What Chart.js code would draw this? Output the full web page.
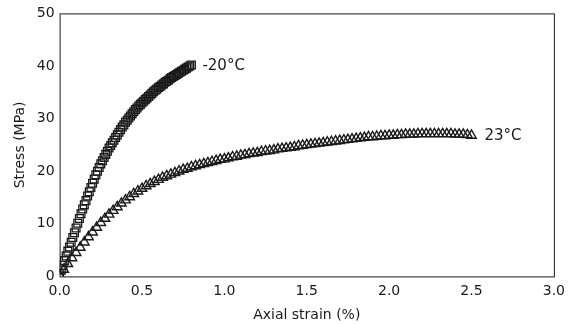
<!DOCTYPE html>
<html>
<head>
<meta charset="utf-8">
<script src="https://cdn.jsdelivr.net/npm/chart.js@4/dist/chart.umd.min.js"></script>
<style>
  html, body { margin: 0; padding: 0; background: #fff; }
  #wrap { width: 572px; height: 324px; position: relative; }
</style>
</head>
<body>
<div id="wrap"><canvas id="c" width="572" height="324"></canvas></div>
<script>
// ---- data ----
const seriesNames = ['-20°C', '23°C'];

const strainCold = [0.00,0.01,0.02,0.03,0.04,0.05,0.06,0.07,0.08,0.09,
  0.10,0.11,0.12,0.13,0.14,0.15,0.16,0.17,0.18,0.19,
  0.20,0.21,0.22,0.23,0.24,0.25,0.26,0.27,0.28,0.29,
  0.30,0.31,0.32,0.33,0.34,0.35,0.36,0.37,0.38,0.39,
  0.40,0.41,0.42,0.43,0.44,0.45,0.46,0.47,0.48,0.49,
  0.50,0.51,0.52,0.53,0.54,0.55,0.56,0.57,0.58,0.59,
  0.60,0.61,0.62,0.63,0.64,0.65,0.66,0.67,0.68,0.69,
  0.70,0.71,0.72,0.73,0.74,0.75,0.76,0.77,0.78,0.79,0.80];
const stressCold = [0.3,1.2,2.1,3.0,3.9,4.8,5.6,6.5,7.4,8.3,
  9.2,10.1,11.0,11.9,12.8,13.6,14.4,15.3,16.1,16.9,
  17.7,18.5,19.3,20.0,20.7,21.4,22.0,22.6,23.2,23.8,
  24.4,24.9,25.4,25.9,26.4,26.9,27.4,27.9,28.4,28.8,
  29.3,29.7,30.1,30.5,30.9,31.3,31.7,32.0,32.4,32.7,
  33.0,33.3,33.6,33.9,34.2,34.5,34.8,35.1,35.4,35.6,
  35.9,36.1,36.4,36.6,36.9,37.1,37.3,37.6,37.8,38.0,
  38.2,38.4,38.6,38.8,39.0,39.2,39.4,39.6,39.8,40.0,40.2];

const strainWarm = [0.000,0.025,0.050,0.075,0.100,0.125,0.150,0.175,0.200,0.225,
  0.250,0.275,0.300,0.325,0.350,0.375,0.400,0.425,0.450,0.475,
  0.500,0.525,0.550,0.575,0.600,0.625,0.650,0.675,0.700,0.725,
  0.750,0.775,0.800,0.825,0.850,0.875,0.900,0.925,0.950,0.975,
  1.000,1.025,1.050,1.075,1.100,1.125,1.150,1.175,1.200,1.225,
  1.250,1.275,1.300,1.325,1.350,1.375,1.400,1.425,1.450,1.475,
  1.500,1.525,1.550,1.575,1.600,1.625,1.650,1.675,1.700,1.725,
  1.750,1.775,1.800,1.825,1.850,1.875,1.900,1.925,1.950,1.975,
  2.000,2.025,2.050,2.075,2.100,2.125,2.150,2.175,2.200,2.225,
  2.250,2.275,2.300,2.325,2.350,2.375,2.400,2.425,2.450,2.475,2.500];
const stressWarm = [0.2,1.3,2.4,3.5,4.5,5.5,6.5,7.5,8.4,9.3,
  10.2,11.0,11.8,12.5,13.2,13.9,14.5,15.1,15.7,16.2,
  16.7,17.2,17.6,18.0,18.4,18.8,19.1,19.4,19.7,20.0,
  20.3,20.5,20.8,21.0,21.2,21.4,21.6,21.8,22.0,22.2,
  22.3,22.5,22.7,22.8,23.0,23.1,23.3,23.4,23.5,23.7,
  23.8,23.9,24.0,24.2,24.3,24.4,24.5,24.6,24.8,24.9,
  25.0,25.1,25.2,25.3,25.4,25.5,25.6,25.7,25.8,25.9,
  26.0,26.1,26.2,26.3,26.4,26.5,26.5,26.6,26.7,26.7,
  26.8,26.8,26.9,26.9,27.0,27.0,27.0,27.1,27.1,27.1,
  27.1,27.1,27.1,27.1,27.1,27.1,27.0,27.0,27.0,26.9,26.8];

const xTickValues = [0, 0.5, 1.0, 1.5, 2.0, 2.5, 3.0];
const xTickLabels = ['0.0', '0.5', '1.0', '1.5', '2.0', '2.5', '3.0'];
const yTickValues = [0, 10, 20, 30, 40, 50];
const yTickLabels = ['0', '10', '20', '30', '40', '50'];
const xTitle = 'Axial strain (%)';
const yTitle = 'Stress (MPa)';

// ---- chart ----
const FONT = '"DejaVu Sans", sans-serif';
const INK = '#1a1a1a';

const frame = {
  id: 'frame',
  afterDatasetsDraw(chart) {
    const { ctx, chartArea: a } = chart;
    ctx.save();
    ctx.strokeStyle = INK;
    ctx.lineWidth = 1;
    ctx.strokeRect(a.left + 0.5, a.top + 0.5, a.right - a.left, a.bottom - a.top);
    ctx.restore();
  }
};

const endLabels = {
  id: 'endLabels',
  afterDatasetsDraw(chart) {
    const { ctx, scales } = chart;
    ctx.save();
    ctx.font = '15px ' + FONT;
    ctx.fillStyle = INK;
    ctx.textBaseline = 'middle';
    ctx.textAlign = 'left';
    chart.data.datasets.forEach((ds, i) => {
      const last = ds.data[ds.data.length - 1];
      const px = scales.x.getPixelForValue(last.x);
      const py = scales.y.getPixelForValue(last.y);
      ctx.fillText(seriesNames[i], px + (i === 0 ? 11 : 13), py + 1);
    });
    ctx.restore();
  }
};

const toPoints = (xs, ys) => xs.map((x, i) => ({ x: x, y: ys[i] }));

new Chart(document.getElementById('c'), {
  type: 'scatter',
  data: {
    datasets: [
      {
        label: seriesNames[0],
        data: toPoints(strainCold, stressCold),
        pointStyle: 'rect',
        pointRadius: 5.5,
        pointBorderWidth: 1.3,
        pointBorderColor: INK,
        pointBackgroundColor: 'rgba(255,255,255,0)',
        showLine: false
      },
      {
        label: seriesNames[1],
        data: toPoints(strainWarm, stressWarm),
        pointStyle: 'triangle',
        pointRadius: 5.5,
        pointBorderWidth: 1.4,
        pointBorderColor: INK,
        pointBackgroundColor: 'rgba(255,255,255,0)',
        showLine: false
      }
    ]
  },
  options: {
    responsive: false,
    animation: false,
    devicePixelRatio: 1,
    layout: { padding: { left: 12, right: 15, top: 4, bottom: 0 } },
    plugins: { legend: { display: false }, tooltip: { enabled: false } },
    scales: {
      x: {
        type: 'linear',
        min: 0, max: 3,
        afterBuildTicks: (s) => { s.ticks = xTickValues.map(v => ({ value: v })); },
        ticks: {
          callback: (v) => xTickLabels[xTickValues.indexOf(v)],
          font: { family: FONT, size: 14 },
          color: INK,
          padding: 7,
          maxRotation: 0
        },
        grid: { display: false, drawTicks: false },
        border: { display: false },
        title: { display: true, text: xTitle, font: { family: FONT, size: 14 }, color: INK, padding: { top: 0, bottom: 0 } }
      },
      y: {
        type: 'linear',
        min: 0, max: 50,
        afterBuildTicks: (s) => { s.ticks = yTickValues.map(v => ({ value: v })); },
        ticks: {
          callback: (v) => yTickLabels[yTickValues.indexOf(v)],
          font: { family: FONT, size: 14 },
          color: INK,
          padding: 5
        },
        grid: { display: false, drawTicks: false },
        border: { display: false },
        title: { display: true, text: yTitle, font: { family: FONT, size: 14 }, color: INK, padding: { top: 0, bottom: 3 } }
      }
    }
  },
  plugins: [frame, endLabels]
});
</script>
</body>
</html>
